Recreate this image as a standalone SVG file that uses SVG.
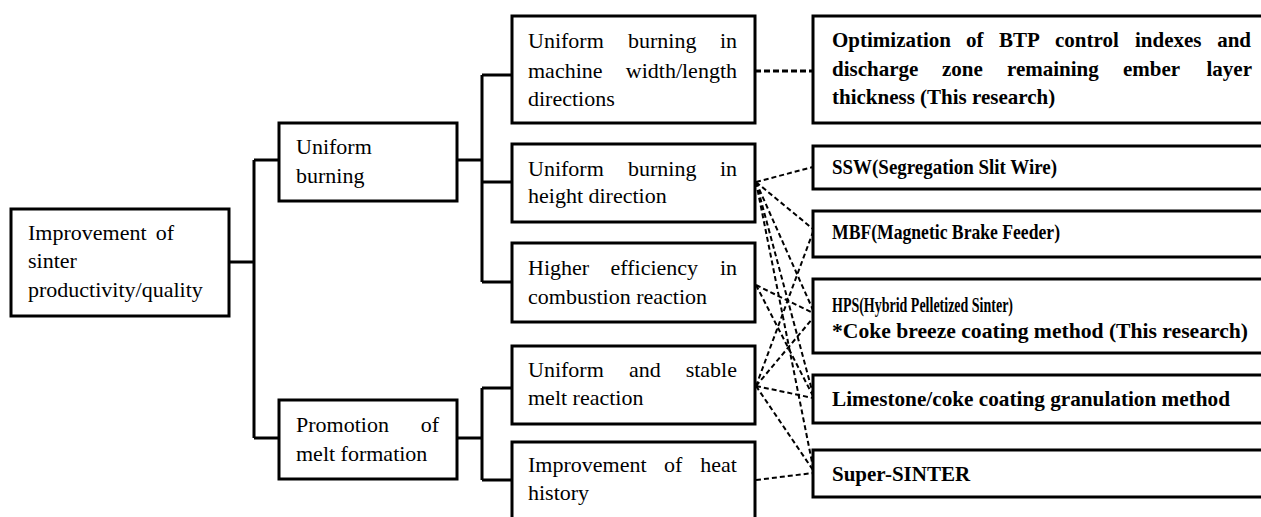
<svg xmlns="http://www.w3.org/2000/svg" width="1261" height="517" viewBox="0 0 1261 517">
<style>
.box{fill:#fff;stroke:#000;stroke-width:3}
.t{font-family:"Liberation Serif","Times New Roman",serif;font-size:22px;fill:#000}
.b{font-family:"Liberation Serif","Times New Roman",serif;font-size:21px;font-weight:bold;fill:#000}
.e{text-anchor:end}
.solid{fill:none;stroke:#000;stroke-width:3}
.dash{fill:none;stroke:#000;stroke-width:2;stroke-dasharray:5 3}
</style>
<rect width="1261" height="517" fill="#fff"/>
<g id="connectors">
<path class="solid" d="M229,262H254M254,160V438M254,160H279M254,438H279"/>
<path class="solid" d="M457,160H482M482,75V282M482,75H512M482,182H512M482,282H512"/>
<path class="solid" d="M457,438H482M482,388V480M482,388H512M482,480H512"/>
<path fill="none" stroke="#000" stroke-width="3" stroke-dasharray="6 3" d="M755,71H813"/>
<path class="dash" d="M756,182L813,167M756,182L813,229M756,182L813,310M756,182L813,394M756,182L813,467"/>
<path class="dash" d="M756,285L813,313M756,285L813,396"/>
<path class="dash" d="M756,386L813,232M756,386L813,318M756,386L813,398M756,386L813,470"/>
<path class="dash" d="M756,480L813,473"/>
</g>
<g id="root">
<rect class="box" x="11" y="209" width="218" height="107"/>
<text class="t" x="28" y="240">Improvement</text><text class="t e" x="174" y="240">of</text>
<text class="t" x="28" y="268">sinter</text>
<text class="t" x="28" y="297">productivity/quality</text>
</g>
<g id="uniform-burning">
<rect class="box" x="279" y="123" width="178" height="78"/>
<text class="t" x="296" y="154">Uniform</text>
<text class="t" x="296" y="183">burning</text>
</g>
<g id="promotion-melt">
<rect class="box" x="279" y="400" width="178" height="79"/>
<text class="t" x="296" y="432">Promotion</text><text class="t e" x="439" y="432">of</text>
<text class="t" x="296" y="461">melt formation</text>
</g>
<g id="width-length">
<rect class="box" x="512" y="16" width="243" height="107"/>
<text class="t" x="528" y="48">Uniform</text><text class="t" x="628" y="48">burning</text><text class="t e" x="737" y="48">in</text>
<text class="t" x="528" y="78">machine</text><text class="t e" x="737" y="78">width/length</text>
<text class="t" x="528" y="106">directions</text>
</g>
<g id="height">
<rect class="box" x="512" y="144" width="243" height="78"/>
<text class="t" x="528" y="176">Uniform</text><text class="t" x="628" y="176">burning</text><text class="t e" x="737" y="176">in</text>
<text class="t" x="528" y="203">height direction</text>
</g>
<g id="combustion">
<rect class="box" x="512" y="243" width="243" height="79"/>
<text class="t" x="528" y="275">Higher</text><text class="t" x="610.5" y="275">efficiency</text><text class="t e" x="737" y="275">in</text>
<text class="t" x="528" y="304">combustion reaction</text>
</g>
<g id="melt-reaction">
<rect class="box" x="512" y="346" width="243" height="78"/>
<text class="t" x="528" y="377">Uniform</text><text class="t" x="629" y="377">and</text><text class="t e" x="737" y="377">stable</text>
<text class="t" x="528" y="405">melt reaction</text>
</g>
<g id="heat-history">
<rect class="box" x="512" y="442" width="243" height="90"/>
<text class="t" x="528" y="472">Improvement</text><text class="t" x="664" y="472">of</text><text class="t e" x="737" y="472">heat</text>
<text class="t" x="528" y="500">history</text>
</g>
<g id="btp">
<rect class="box" x="813" y="16" width="460" height="107"/>
<text class="b" x="832" y="47">Optimization</text><text class="b" x="966" y="47">of</text><text class="b" x="999" y="47">BTP</text><text class="b" x="1055" y="47">control</text><text class="b" x="1135" y="47">indexes</text><text class="b e" x="1251" y="47">and</text>
<text class="b" x="832" y="76">discharge</text><text class="b" x="942" y="76">zone</text><text class="b" x="1007" y="76">remaining</text><text class="b" x="1123" y="76">ember</text><text class="b e" x="1252" y="76">layer</text>
<text class="b" x="832" y="104">thickness (This research)</text>
</g>
<g id="ssw">
<rect class="box" x="813" y="146" width="460" height="43"/>
<text class="b" x="832" y="174" font-size="19" textLength="225" lengthAdjust="spacingAndGlyphs">SSW(Segregation Slit Wire)</text>
</g>
<g id="mbf">
<rect class="box" x="813" y="211" width="460" height="46"/>
<text class="b" x="832" y="239" font-size="19" textLength="228" lengthAdjust="spacingAndGlyphs">MBF(Magnetic Brake Feeder)</text>
</g>
<g id="hps">
<rect class="box" x="813" y="279" width="460" height="74"/>
<text class="b" x="832" y="312" font-size="20" textLength="181" lengthAdjust="spacingAndGlyphs">HPS(Hybrid Pelletized  Sinter)</text>
<text class="b" x="832" y="338" textLength="416" lengthAdjust="spacingAndGlyphs">*Coke breeze coating method (This research)</text>
</g>
<g id="limestone">
<rect class="box" x="813" y="375" width="460" height="48"/>
<text class="b" x="832" y="406" textLength="398" lengthAdjust="spacingAndGlyphs">Limestone/coke coating granulation method</text>
</g>
<g id="super-sinter">
<rect class="box" x="813" y="450" width="460" height="47"/>
<text class="b" x="832" y="481">Super-SINTER</text>
</g>
</svg>
